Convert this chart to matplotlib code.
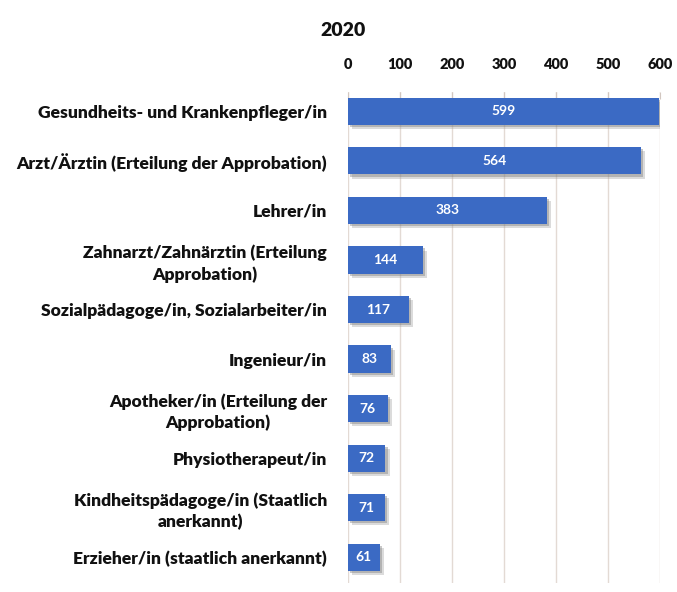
import matplotlib
matplotlib.use("Agg")
import matplotlib.pyplot as plt
import matplotlib.patheffects as pe

categories = [
    "Gesundheits- und Krankenpfleger/in",
    "Arzt/Ärztin (Erteilung der Approbation)",
    "Lehrer/in",
    "Zahnarzt/Zahnärztin (Erteilung\nApprobation)",
    "Sozialpädagoge/in, Sozialarbeiter/in",
    "Ingenieur/in",
    "Apotheker/in (Erteilung der\nApprobation)",
    "Physiotherapeut/in",
    "Kindheitspädagoge/in (Staatlich\nanerkannt)",
    "Erzieher/in (staatlich anerkannt)",
]
values = [599, 564, 383, 144, 117, 83, 76, 72, 71, 61]
xticks = [0, 100, 200, 300, 400, 500, 600]
title = "2020"

plt.rcParams['font.family'] = ['Lato', 'DejaVu Sans']

W, H = 677, 592
fig = plt.figure(figsize=(W / 100, H / 100), dpi=100)
fig.patch.set_facecolor("white")

left, right = 348 / W, 660 / W
top, bottom = 1 - 92 / H, 1 - 583 / H
ax = fig.add_axes([left, bottom, right - left, top - bottom])
ax.set_facecolor("white")

ypos = list(range(len(categories)))
bars = ax.barh(ypos, values, height=0.55, color="#3b6ac4", zorder=3)
for b in bars:
    b.set_path_effects([
        pe.SimplePatchShadow(offset=(3, -3), shadow_rgbFace="#9a9a9a", alpha=0.35),
        pe.SimplePatchShadow(offset=(1.5, -1.5), shadow_rgbFace="#777777", alpha=0.4),
        pe.Normal()])

for y, v in zip(ypos, values):
    ax.text(v / 2, y, str(v), ha="center", va="center", color="white",
            fontsize=10, fontweight="bold", zorder=4)

ax.set_xlim(0, 600)
ax.set_ylim(9.52, -0.39)
ax.set_xticks(xticks)
ax.set_xticklabels([str(t) for t in xticks])
ax.xaxis.tick_top()
ax.tick_params(axis="x", direction="in", length=5, color="#d2c7c0", pad=15,
               labelsize=10.5, labelcolor="#111111")
for lab in ax.get_xticklabels():
    lab.set_fontweight("heavy")
ax.set_yticks(ypos)
ax.set_yticklabels(categories)
ax.tick_params(axis="y", length=0, pad=15, labelsize=12.6, labelcolor="#111111")
for lab in ax.get_yticklabels():
    lab.set_fontweight("heavy")
    lab.set_multialignment("center")
    lab.set_linespacing(1.35)

ax.grid(axis="x", color="#e3dad4", linewidth=1.0, zorder=0)
for s in ax.spines.values():
    s.set_visible(False)

fig.text(343 / W, 1 - 30 / H, title, ha="center", va="center",
         fontsize=14, fontweight="heavy", color="#111111")

fig.savefig("out.png", dpi=100, facecolor="white")
